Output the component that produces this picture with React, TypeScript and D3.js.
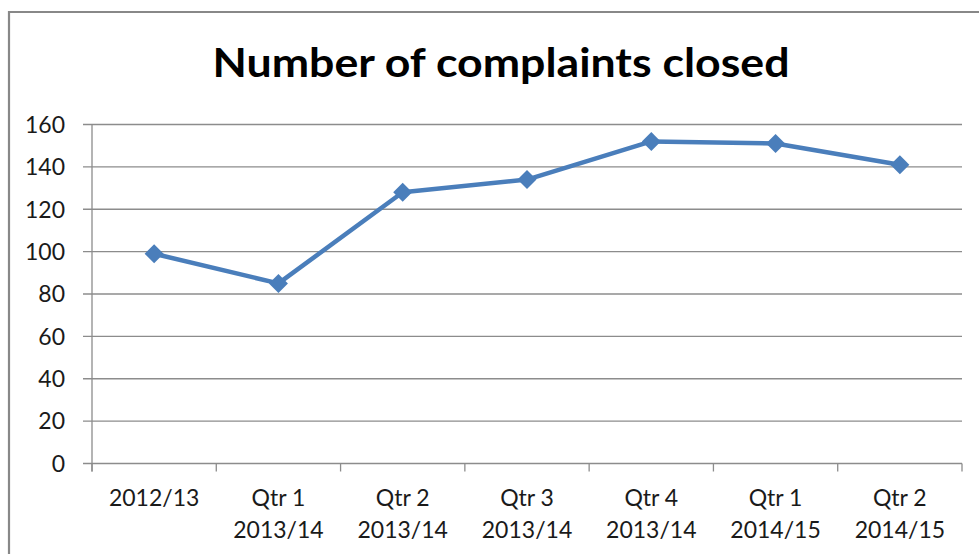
import React from "react";
import * as d3 from "d3";

const categories: string[][] = [
  ["2012/13"],
  ["Qtr 1", "2013/14"],
  ["Qtr 2", "2013/14"],
  ["Qtr 3", "2013/14"],
  ["Qtr 4", "2013/14"],
  ["Qtr 1", "2014/15"],
  ["Qtr 2", "2014/15"],
];
const values: number[] = [99, 85, 128, 134, 152, 151, 141];
const yTicks: number[] = [0, 20, 40, 60, 80, 100, 120, 140, 160];
const title = "Number of complaints closed";

const W = 979;
const H = 554;
const left = 92;
const right = 962;
const top = 124.5;
const bottom = 463.5;
const font = "Lato, 'Open Sans', sans-serif";
const lineColor = "#4a7ebb";
const gridColor = "#8c8c8c";

export default function App() {
  const keys = categories.map((c, i) => String(i));
  const x = d3.scaleBand<string>().domain(keys).range([left, right]).padding(0);
  const y = d3.scaleLinear().domain([0, 160]).range([bottom, top]);
  const cx = (i: number) => (x(String(i)) ?? 0) + x.bandwidth() / 2;
  const line = d3
    .line<number>()
    .x((_, i) => cx(i))
    .y((d) => y(d));
  const diamond = d3.symbol().type(d3.symbolDiamond2).size(230)();
  const boundaries = [...keys.map((k) => x(k) ?? 0), right];

  return (
    <svg width={W} height={H} style={{ position: "absolute", left: 0, top: 0, background: "#fff" }}>
      <rect x={0} y={0} width={W} height={H} fill="#fff" />
      <path d={`M9,${H + 5} L9,12 L${W + 5},12`} fill="none" stroke="#888" strokeWidth={2.2} />
      <text
        x={501}
        y={77}
        textAnchor="middle"
        fontFamily={font}
        fontWeight={700}
        fontSize={40}
        textLength={577}
        lengthAdjust="spacingAndGlyphs"
        fill="#000"
      >
        {title}
      </text>
      {yTicks.map((t) => (
        <g key={t}>
          <line x1={83} x2={right} y1={y(t)} y2={y(t)} stroke={gridColor} strokeWidth={1.3} />
          <text
            x={65}
            y={y(t)}
            dy="0.36em"
            textAnchor="end"
            fontFamily={font}
            fontSize={23}
            fill="#1a1a1a"
          >
            {t}
          </text>
        </g>
      ))}
      <line x1={left} x2={left} y1={top} y2={bottom + 8} stroke={gridColor} strokeWidth={1.3} />
      {boundaries.map((b, i) => (
        <line key={i} x1={b} x2={b} y1={bottom} y2={bottom + 8} stroke={gridColor} strokeWidth={1.3} />
      ))}
      {categories.map((lines, i) =>
        lines.map((l, j) => (
          <text
            key={`${i}-${j}`}
            x={cx(i)}
            y={498 + j * 32}
            dy="0.36em"
            textAnchor="middle"
            fontFamily={font}
            fontSize={23}
            fill="#1a1a1a"
          >
            {l}
          </text>
        ))
      )}
      <path d={line(values) ?? ""} fill="none" stroke={lineColor} strokeWidth={4.5} strokeLinejoin="round" />
      {values.map((v, i) => (
        <path key={i} d={diamond ?? ""} transform={`translate(${cx(i)},${y(v)})`} fill={lineColor} />
      ))}
    </svg>
  );
}
